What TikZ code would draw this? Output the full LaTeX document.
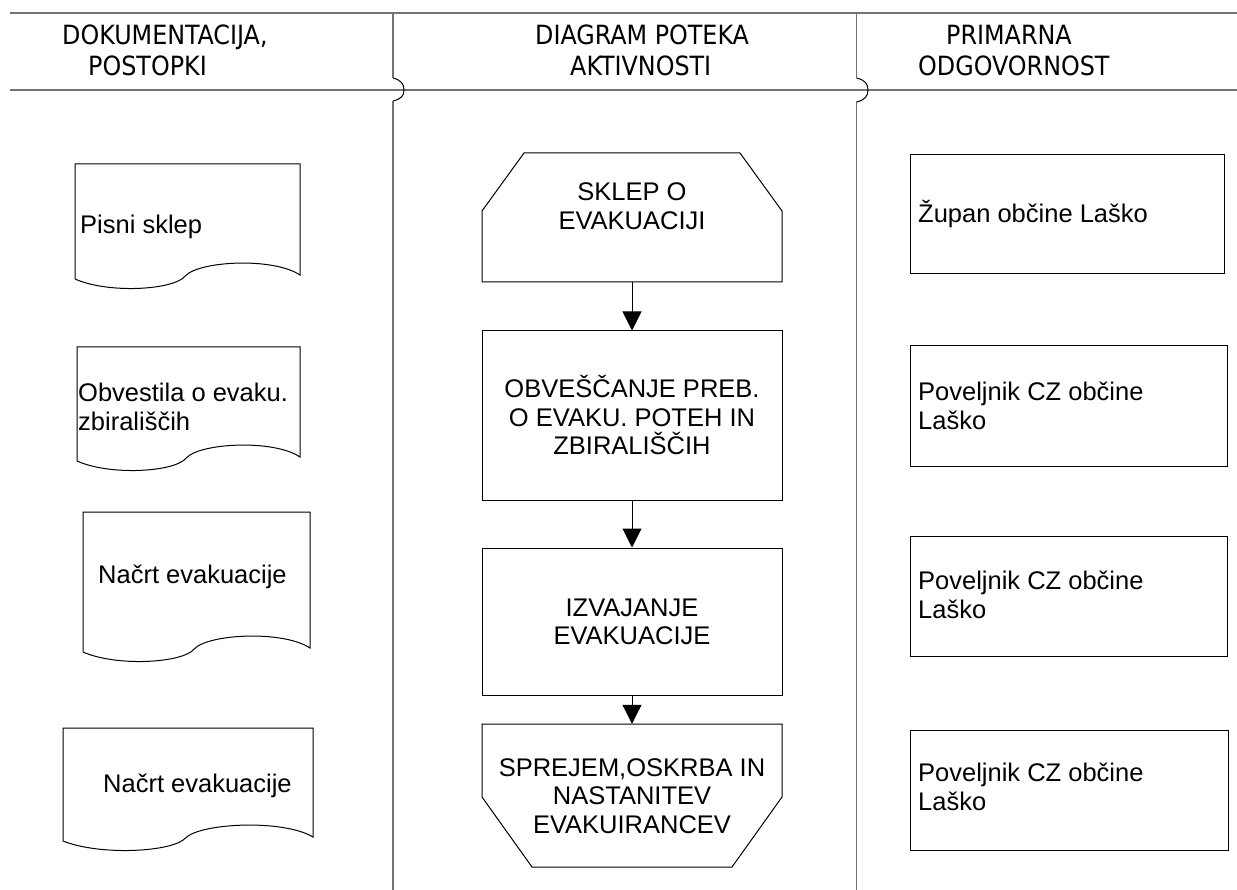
\documentclass[tikz,border=0pt]{standalone}
\usepackage{fontspec}
\setmainfont{Liberation Sans}
\newfontfamily\hdrfont{DejaVu Sans Condensed}
\usetikzlibrary{arrows.meta}
\newcommand\mydoc[4]{% L T R B
  \draw[shp] (#1,{#4+4}) -- (#1,#2) -- (#3,#2) -- (#3,#4)
    .. controls ({#1+0.88*(#3-#1)},{#4-18}) and ({#1+0.55*(#3-#1)},{#4-14}) .. ({#1+0.49*(#3-#1)},{#4+1})
    .. controls ({#1+0.44*(#3-#1)},{#4+15}) and ({#1+0.15*(#3-#1)},{#4+19}) .. (#1,{#4+4});}
\begin{document}
\begin{tikzpicture}[x=1pt,y=-1pt,
  frame/.style={draw=black!55, line width=1.5pt},
  shp/.style={draw=black, line width=1pt},
  body/.style={font=\fontsize{25.5}{28.5}\selectfont, inner sep=0pt},
  hdr/.style={font=\hdrfont\fontsize{26.5}{30}\selectfont, inner sep=0pt, anchor=base west},
  box/.style={shp, inner sep=0pt},
  arr/.style={draw=black, line width=1pt, -{Triangle[width=19pt,length=19pt]}}]
\useasboundingbox (0,0) rectangle (1237,890);
% frame
\draw[frame] (10,13) -- (1237,13);
\draw[frame] (10,90) -- (1237,90);
\draw[frame] (393,13) -- (393,78);
\draw[frame] (393,101) -- (393,890);
\draw[line width=1pt] (393,78) .. controls (401,80) and (404,84) .. (404,90) .. controls (404,96) and (401,99) .. (393,101);
\draw[frame] (856.5,13) -- (856.5,78);
\draw[frame] (856.5,102) -- (856.5,890);
\draw[line width=1pt] (856.5,78) .. controls (865,80) and (868,84) .. (868,90) .. controls (868,96) and (865,100) .. (856.5,102);
% headers
\node[hdr] (h1a) at (62,45) {DOKUMENTACIJA,};
\node[hdr] (h1b) at (88,76) {POSTOPKI};
\node[hdr] (h2a) at (535,45) {DIAGRAM POTEKA};
\node[hdr] (h2b) at (570,76) {AKTIVNOSTI};
\node[hdr] (h3a) at (946,45) {PRIMARNA};
\node[hdr] (h3b) at (918,76) {ODGOVORNOST};
% documents
\mydoc{75}{164}{300}{275}
\node[body, anchor=west] (d1) at (80,227) {Pisni sklep};
\mydoc{77}{347}{300}{457}
\node[body, anchor=west, align=left] (d2) at (78,407) {Obvestila o evaku.\\zbirališčih};
\mydoc{83}{512}{310}{648}
\node[body, anchor=west] (d3) at (98,577) {Načrt evakuacije};
\mydoc{63}{728}{313}{837}
\node[body, anchor=west] (d4) at (103,786) {Načrt evakuacije};
% center column
\draw[shp] (482,282) -- (482,211) -- (524,153) -- (740,153) -- (782,211) -- (782,282) -- cycle;
\node[inner sep=0pt, minimum width=300pt, minimum height=129pt] (c1) at (632,217.5) {};
\node[body, align=center] (c1t) at (632,206) {SKLEP O\\EVAKUACIJI};
\node[box, minimum width=300pt, minimum height=169pt] (c2) at (632,415.5) {};
\node[body, align=center] (c2t) at (632,415) {OBVEŠČANJE PREB.\\O EVAKU. POTEH IN\\ZBIRALIŠČIH};
\node[box, minimum width=300pt, minimum height=147pt] (c3) at (632,621.5) {};
\node[body, align=center] (c3t) at (632,622) {IZVAJANJE\\EVAKUACIJE};
\draw[shp] (482,724) -- (782,724) -- (782,797) -- (732,867) -- (532,867) -- (482,797) -- cycle;
\node[inner sep=0pt, minimum width=300pt, minimum height=143pt] (c4) at (632,795.5) {};
\node[body, align=center] (c4t) at (632,796) {SPREJEM,OSKRBA IN\\NASTANITEV\\EVAKUIRANCEV};
\draw[arr] (c1.south) -- (c2.north);
\draw[arr] (c2.south) -- (c3.north);
\draw[arr] (c3.south) -- (c4.north);
% right column
\node[box, minimum width=314pt, minimum height=119pt] (r1) at (1067,214.5) {};
\node[body, anchor=west] (r1t) at (918,214) {Župan občine Laško};
\node[box, minimum width=317pt, minimum height=120pt] (r2) at (1068.5,406) {};
\node[body, anchor=west, align=left] (r2t) at (918,406) {Poveljnik CZ občine\\Laško};
\node[box, minimum width=317pt, minimum height=120pt] (r3) at (1068.5,596) {};
\node[body, anchor=west, align=left] (r3t) at (918,595) {Poveljnik CZ občine\\Laško};
\node[box, minimum width=318pt, minimum height=120pt] (r4) at (1069,790) {};
\node[body, anchor=west, align=left] (r4t) at (918,787) {Poveljnik CZ občine\\Laško};
\end{tikzpicture}
\end{document}
